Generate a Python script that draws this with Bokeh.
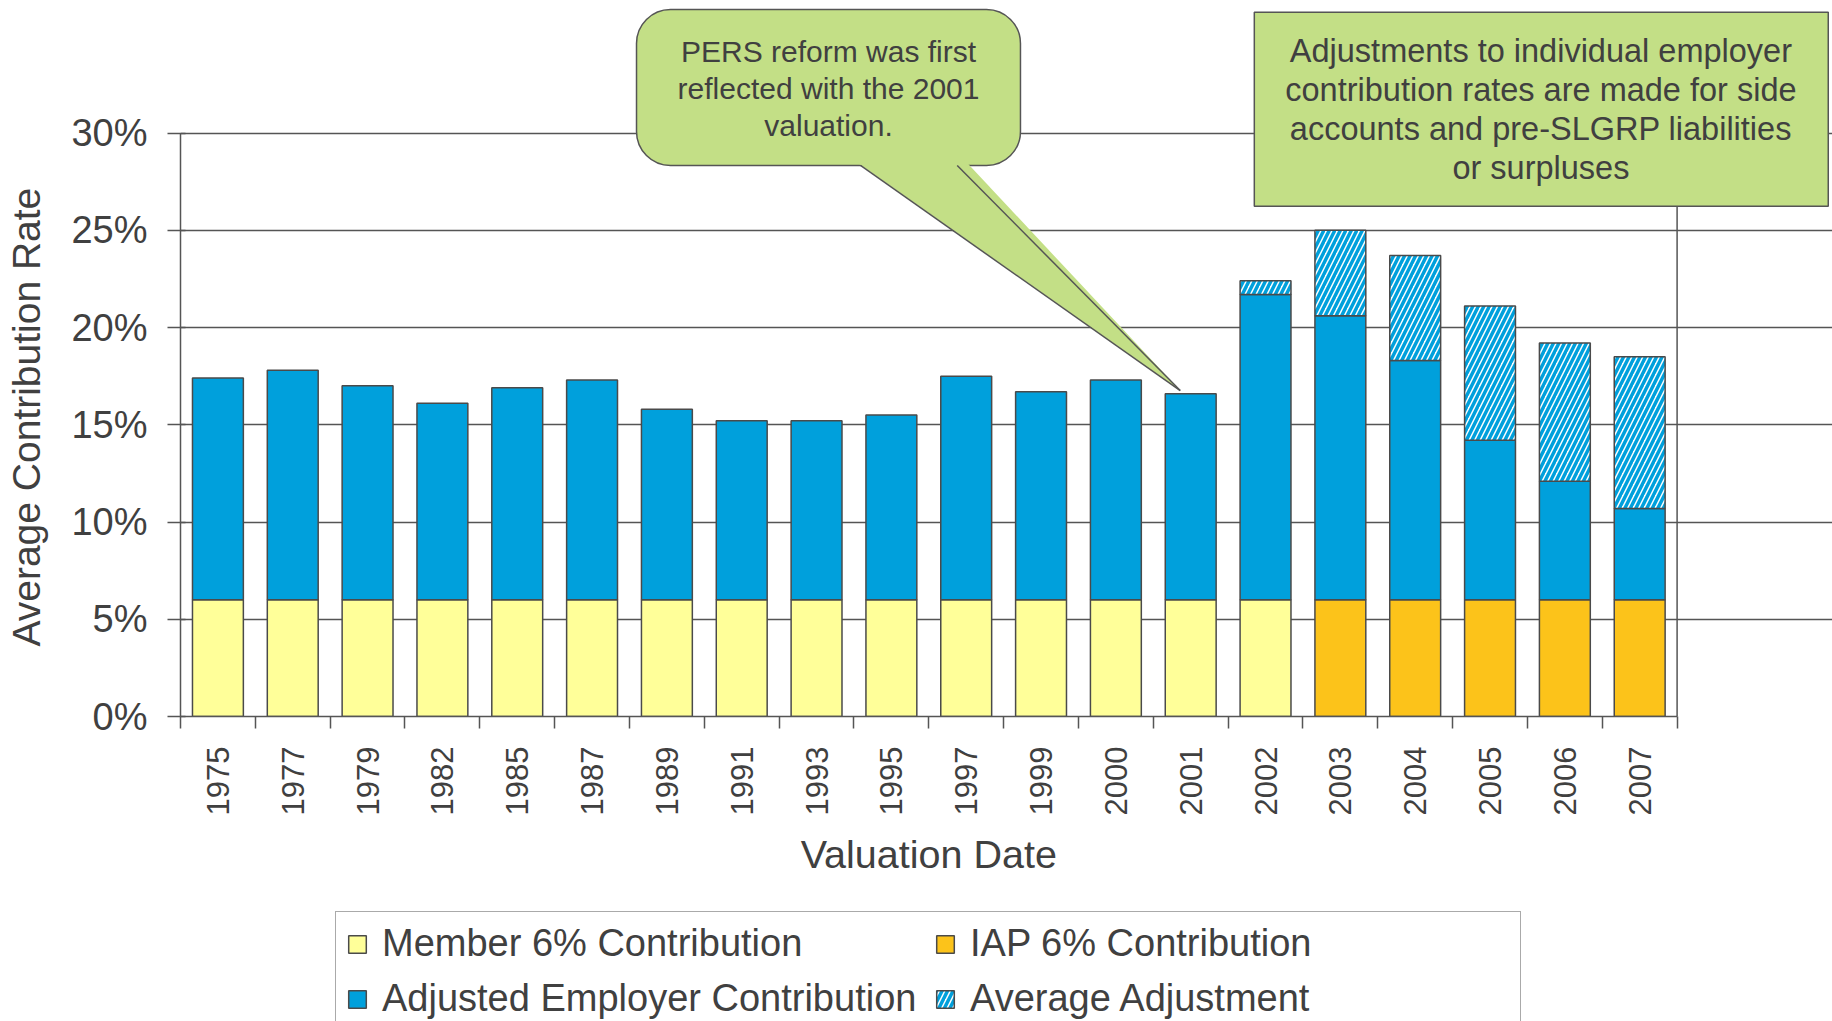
from math import pi
from bokeh.plotting import figure
from bokeh.layouts import column, row
from bokeh.models import (Range1d, FixedTicker, Legend, LegendItem,
                          PrintfTickFormatter, ColumnDataSource)
from bokeh.embed import file_html
from bokeh.resources import INLINE
from bokeh.core.properties import value

# ---------------- data ----------------
years = ["1975", "1977", "1979", "1982", "1985", "1987", "1989", "1991", "1993", "1995",
         "1997", "1999", "2000", "2001", "2002", "2003", "2004", "2005", "2006", "2007"]
member = [6, 6, 6, 6, 6, 6, 6, 6, 6, 6, 6, 6, 6, 6, 6, 0, 0, 0, 0, 0]
iap = [0, 0, 0, 0, 0, 0, 0, 0, 0, 0, 0, 0, 0, 0, 0, 6, 6, 6, 6, 6]
employer = [11.4, 11.8, 11.0, 10.1, 10.9, 11.3, 9.8, 9.2, 9.2, 9.5,
            11.5, 10.7, 11.3, 10.6, 15.7, 14.6, 12.3, 8.2, 6.1, 4.7]
adjustment = [0, 0, 0, 0, 0, 0, 0, 0, 0, 0, 0, 0, 0, 0, 0.7, 4.4, 5.4, 6.9, 7.1, 7.8]
y_ticks = [0, 5, 10, 15, 20, 25, 30]

series_names = ["Member 6% Contribution", "IAP 6% Contribution",
                "Adjusted Employer Contribution", "Average Adjustment"]
legend_order = [0, 2, 1, 3]   # column-major fill -> rows: Member/IAP, Adjusted/Average
y_title = "Average Contribution Rate"
x_title = "Valuation Date"
note_left = "PERS reform was first\nreflected with the 2001\nvaluation."
note_right = ("Adjustments to individual employer\ncontribution rates are made for side\n"
              "accounts and pre-SLGRP liabilities\nor surpluses")

# ---------------- styles / layout ----------------
FONT = "Liberation Sans"
TXT = "#404040"
LINE = "#555555"
YELLOW = "#FFFF99"
ORANGE = "#FCC31A"
BLUE = "#00A0DC"
GREEN = "#C3DF86"

PAGE_W, PAGE_H = 1832, 1021
TITLE_W = 60          # strip holding the y-axis title
MAIN_H = 830          # plot + x tick labels
FRAME_LEFT = 180      # page x of the 0 category edge
FRAME_BOTTOM = 716    # page y of 0 %
PX_X = 74.83          # pixels per category
PX_Y = 19.45          # pixels per percent

n = len(years)
xc = [i + 0.5 for i in range(n)]
base = [m + a for m, a in zip(member, iap)]
emp_top = [b + e for b, e in zip(base, employer)]
adj_top = [t + a for t, a in zip(emp_top, adjustment)]

def subset(keep, **cols):
    idx = [i for i, ok in enumerate(keep) if ok]
    return ColumnDataSource({k: [v[i] for i in idx] for k, v in cols.items()})

src_member = subset([m > 0 for m in member], x=xc, top=member)
src_iap = subset([a > 0 for a in iap], x=xc, top=iap)
src_emp = ColumnDataSource(dict(x=xc, bottom=base, top=emp_top))
src_adj = subset([a > 0 for a in adjustment], x=xc, bottom=emp_top, top=adj_top)

main_w = PAGE_W - TITLE_W
p = figure(width=main_w, height=MAIN_H,
           x_range=Range1d(0, (PAGE_W - FRAME_LEFT) / PX_X),
           y_range=Range1d(0, FRAME_BOTTOM / PX_Y),
           output_backend="svg", toolbar_location=None,
           min_border_left=FRAME_LEFT - TITLE_W, min_border_right=0, min_border_top=0,
           min_border_bottom=MAIN_H - FRAME_BOTTOM)
p.outline_line_color = None
p.background_fill_color = "white"
p.border_fill_color = "white"

W = 0.68
bar_line = dict(line_color="#4a4a4a", line_width=1.5)
fills = [dict(fill_color=YELLOW), dict(fill_color=ORANGE), dict(fill_color=BLUE),
         dict(fill_color="white", hatch_pattern="right_diagonal_line",
              hatch_color=BLUE, hatch_weight=3.5, hatch_scale=11)]

r_member = p.vbar(x="x", width=W, bottom=0, top="top", source=src_member, **fills[0], **bar_line)
r_iap = p.vbar(x="x", width=W, bottom=0, top="top", source=src_iap, **fills[1], **bar_line)
r_emp = p.vbar(x="x", width=W, bottom="bottom", top="top", source=src_emp, **fills[2], **bar_line)
r_adj = p.vbar(x="x", width=W, bottom="bottom", top="top", source=src_adj, **fills[3], **bar_line)

# right border of plot box
p.segment(x0=[n], y0=[y_ticks[0]], x1=[n], y1=[y_ticks[-1]], line_color=LINE, line_width=1.5)

# axes
p.yaxis.ticker = FixedTicker(ticks=y_ticks)
p.yaxis.formatter = PrintfTickFormatter(format="%d%%")
p.yaxis.bounds = (y_ticks[0], y_ticks[-1])
p.yaxis.major_label_text_font = FONT
p.yaxis.major_label_text_font_size = "38px"
p.yaxis.major_label_text_color = TXT
p.yaxis.major_tick_out = 13
p.yaxis.major_tick_in = 5
p.yaxis.minor_tick_line_color = None
p.yaxis.major_label_standoff = 20

p.xaxis.ticker = FixedTicker(ticks=xc, minor_ticks=list(range(n + 1)))
p.xaxis.major_label_overrides = {c: y for c, y in zip(xc, years)}
p.xaxis.bounds = (0, n)
p.xaxis.major_tick_out = 0
p.xaxis.major_tick_in = 0
p.xaxis.minor_tick_out = 12
p.xaxis.minor_tick_in = 0
p.xaxis.major_label_orientation = pi / 2
p.xaxis.major_label_text_font = FONT
p.xaxis.major_label_text_font_size = "31px"
p.xaxis.major_label_text_color = TXT
p.xaxis.major_label_standoff = 18

for ax in (p.xaxis, p.yaxis):
    ax.axis_line_color = LINE
    ax.axis_line_width = 1.5
    ax.major_tick_line_color = LINE
    ax.major_tick_line_width = 1.5
    ax.minor_tick_line_width = 1.5
p.xaxis.minor_tick_line_color = LINE

p.xgrid.visible = False
p.ygrid.ticker = FixedTicker(ticks=y_ticks)
p.ygrid.bounds = (0, n)
p.ygrid.grid_line_color = LINE
p.ygrid.grid_line_width = 1.5

# callout 1: speech bubble
p.quad(left=[6.094], right=[11.225], bottom=[28.33], top=[36.35],
       fill_color=GREEN, line_color=LINE, line_width=1.5, border_radius=34)
p.patch(x=[9.0, 13.36, 10.48], y=[28.6, 16.76, 28.6], fill_color=GREEN, line_alpha=0)
p.multi_line(xs=[[9.087, 13.36], [10.38, 13.36]], ys=[[28.33, 16.76], [28.33, 16.76]],
             line_color=LINE, line_width=1.5)
p.text(x=[8.66], y=[32.3], text=[note_left], text_font=value(FONT),
       text_font_size="30px", text_align="center", text_baseline="middle",
       text_color=TXT, text_line_height=1.12)

# callout 2: box
p.quad(left=[14.35], right=[22.02], bottom=[26.24], top=[36.21],
       fill_color=GREEN, line_color=LINE, line_width=1.5)
p.text(x=[18.18], y=[31.2], text=[note_right], text_font=value(FONT),
       text_font_size="32.5px", text_align="center", text_baseline="middle",
       text_color=TXT, text_line_height=1.08)

# ---------------- y-axis title strip ----------------
t = figure(width=TITLE_W, height=MAIN_H, x_range=Range1d(0, TITLE_W),
           y_range=Range1d(0, MAIN_H), output_backend="svg", toolbar_location=None,
           min_border=0)
t.axis.visible = False
t.grid.visible = False
t.outline_line_color = None
t.text(x=[26], y=[MAIN_H - 483], text=[y_title], angle=pi / 2,
       text_font=value(FONT), text_font_size="39px", text_align="center",
       text_baseline="middle", text_color=TXT)

# ---------------- bottom strip: x title + legend ----------------
bot_h = PAGE_H - MAIN_H
b = figure(width=PAGE_W, height=bot_h,
           x_range=Range1d(-FRAME_LEFT / PX_X, (PAGE_W - FRAME_LEFT) / PX_X),
           y_range=Range1d(0, bot_h), output_backend="svg", toolbar_location=None,
           min_border=0)
b.axis.visible = False
b.grid.visible = False
b.outline_line_color = None
b.text(x=[n / 2], y=[PAGE_H - 853], text=[x_title], text_font=value(FONT),
       text_font_size="39.5px", text_align="center", text_baseline="middle", text_color=TXT)

nan = float("nan")
proxy = ColumnDataSource(dict(x=[nan], top=[nan]))
dummies = [b.vbar(x="x", width=W, bottom=0, top="top", source=proxy, **f, **bar_line)
           for f in fills]
legend = Legend(items=[LegendItem(label=series_names[i], renderers=[dummies[i]])
                       for i in legend_order],
                location=(335, -10), ncols=2,
                label_text_font=FONT, label_text_font_size="38px", label_text_color=TXT,
                glyph_width=22, glyph_height=22, label_standoff=14, label_height=40,
                label_width=540, spacing=12, padding=10, margin=0,
                border_line_color=LINE, border_line_width=1.5,
                background_fill_color="white", background_fill_alpha=1.0)
b.add_layout(legend)

layout = column(row(t, p), b)
open("out.html", "w").write(file_html(layout, INLINE))
